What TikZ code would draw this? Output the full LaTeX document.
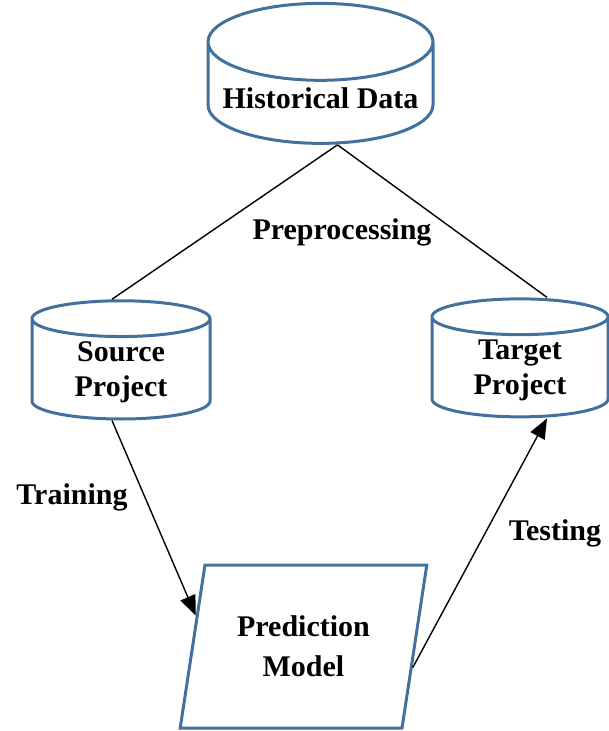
\documentclass[tikz,border=0pt]{standalone}
\usepackage{fontspec}
\setmainfont{Liberation Serif}
\usetikzlibrary{arrows.meta,positioning,shapes.symbols,shapes.geometric}
\definecolor{shapeblue}{HTML}{41719C}
\definecolor{flowink}{HTML}{000000}

\begin{document}
\begin{tikzpicture}[x=1pt,y=-1pt,
    store/.style={cylinder,shape border rotate=90,draw=shapeblue,line width=3pt,
      fill=white,align=center,font=\fontsize{30}{35}\selectfont\bfseries},
    flow/.style={draw=flowink,line width=1.4pt},
    stepname/.style={font=\fontsize{30}{35}\selectfont\bfseries}]
    \useasboundingbox (0,0) rectangle (609,731);
    \node[store,aspect=.38,minimum width=225pt,minimum height=140pt] (histData) at (320.5,98) {Historical Data};
    \node[store,aspect=.36,minimum width=178pt,minimum height=108pt] (srcProject) at (121,372) {Source\\Project};
    \node[store,aspect=.36,minimum width=176pt,minimum height=108pt] (tgtProject) at (520,370) {Target\\Project};
    \node[trapezium,trapezium left angle=75.5,trapezium right angle=104.5,trapezium stretches=true,
      draw=shapeblue,line width=3pt,minimum width=247pt,minimum height=163pt,align=center,
      font=\fontsize{30}{40}\selectfont\bfseries] (predModel) at (303.5,646.5) {Prediction\\Model};
    \coordinate (splitPoint) at ([xshift=17pt]histData.south);
    \draw[flow] (splitPoint) -- ([xshift=-9pt]srcProject.north)
      (splitPoint) -- ([xshift=27pt]tgtProject.north);
    \draw[flow,-{Triangle[length=20pt,width=16pt]}] ([xshift=-9pt]srcProject.south) -- (predModel.164);
    \draw[flow,-{Triangle[length=20pt,width=16pt]}] (predModel.-11) -- ([xshift=27pt]tgtProject.south);
    \node[stepname] (preLabel) at (342,232) {Preprocessing};
    \node[stepname] (trainLabel) at (72,497) {Training};
    \node[stepname] (testLabel) at (555,533) {Testing};
  \end{tikzpicture}
\end{document}
